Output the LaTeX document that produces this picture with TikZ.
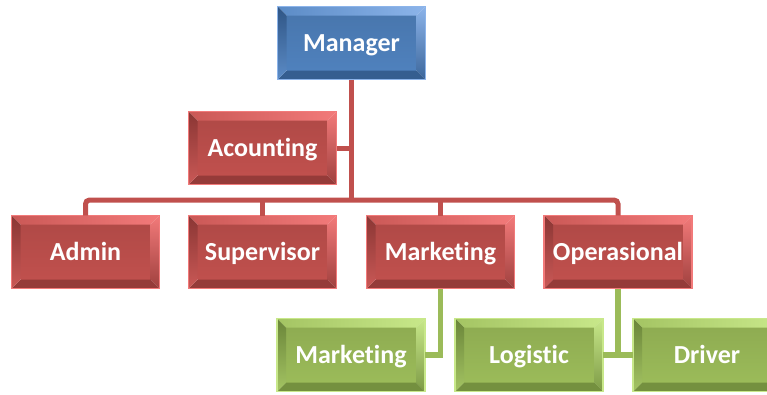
\documentclass[tikz,border=0pt]{standalone}
\usepackage{fontspec}
\setmainfont{Carlito}[Ligatures=NoCommon]
\usepackage{tikz}

\definecolor{redface}{HTML}{C0504D}
\definecolor{redlight}{HTML}{F27A7A}
\definecolor{reddark}{HTML}{8A3634}
\definecolor{blueface}{HTML}{4F81BD}
\definecolor{bluelight}{HTML}{8CB4EA}
\definecolor{bluedark}{HTML}{2F5585}
\definecolor{greenface}{HTML}{9BBB59}
\definecolor{greenlight}{HTML}{C8E88A}
\definecolor{greendark}{HTML}{6A8539}

\tikzset{
  bevel/.style n args={3}{
    draw=#2, line width=1.2pt, inner sep=0pt, outer sep=0pt,
    minimum width=148pt, minimum height=73pt,
    text height=16.7pt, text depth=0pt,
    text=white, font=\bfseries\fontsize{26}{30}\selectfont,
    path picture={
      \coordinate (pa) at (path picture bounding box.north west);
      \coordinate (pb) at (path picture bounding box.north east);
      \coordinate (pc) at (path picture bounding box.south east);
      \coordinate (pd) at (path picture bounding box.south west);
      \coordinate (qa) at ([shift={(9pt,-9pt)}]pa);
      \coordinate (qb) at ([shift={(-9pt,-9pt)}]pb);
      \coordinate (qc) at ([shift={(-9pt,9pt)}]pc);
      \coordinate (qd) at ([shift={(9pt,9pt)}]pd);
      \shade[top color=#1!92!black, bottom color=#1] (qa) rectangle (qc);
      \shade[left color=#1!80!#2, right color=#2] (pa) -- (pb) -- (qb) -- (qa) -- cycle;
      \shade[top color=#2, bottom color=#3!60!#1] (pb) -- (pc) -- (qc) -- (qb) -- cycle;
      \fill[#3!80!#1] (pc) -- (pd) -- (qd) -- (qc) -- cycle;
      \shade[top color=#3, bottom color=#1!80!#2] (pd) -- (pa) -- (qa) -- (qd) -- cycle;
    }},
  redbox/.style={bevel={redface}{redlight}{reddark}},
  bluebox/.style={bevel={blueface}{bluelight}{bluedark}},
  greenbox/.style={bevel={greenface}{greenlight}{greendark}},
  redline/.style={draw=redface, line width=5pt},
  greenline/.style={draw=greenface, line width=5.5pt}
}

\begin{document}
\begin{tikzpicture}[x=1pt, y=-1pt]
\useasboundingbox (0,0) rectangle (767,394);
\clip (0,0) rectangle (767,394);

% top
\node[bluebox] (mgr) at (351.5,43) {Manager};
\node[redbox] (acc) at (262.5,148) {Acounting};

% second row
\node[redbox] (admin) at (85.5,252) {Admin};
\node[redbox] (sup) at (262.5,252) {Supervisor};
\node[redbox] (mkt) at (440.5,252) {Marketing};
\node[redbox] (ops) at (618,252) {Operasional};

% third row
\node[greenbox] (gmkt) at (351,355) {Marketing};
\node[greenbox] (log) at (529,355) {Logistic};
\node[greenbox] (drv) at (707,355) {Driver};

\coordinate (hub) at (351.5,200);

\draw[redline] (mgr.south) -- (hub);
\draw[redline] (acc.east) -- (acc.east -| hub);
\draw[redline, rounded corners=4pt] (admin.north) |- (hub) -| (ops.north);
\draw[redline] (sup.north) -- (sup.north |- hub);
\draw[redline] (mkt.north) -- (mkt.north |- hub);

\draw[greenline] (mkt.south) |- (gmkt.east);
\draw[greenline] (ops.south) |- (log.east);
\draw[greenline] (log.east) -- (drv.west);
\end{tikzpicture}
\end{document}
